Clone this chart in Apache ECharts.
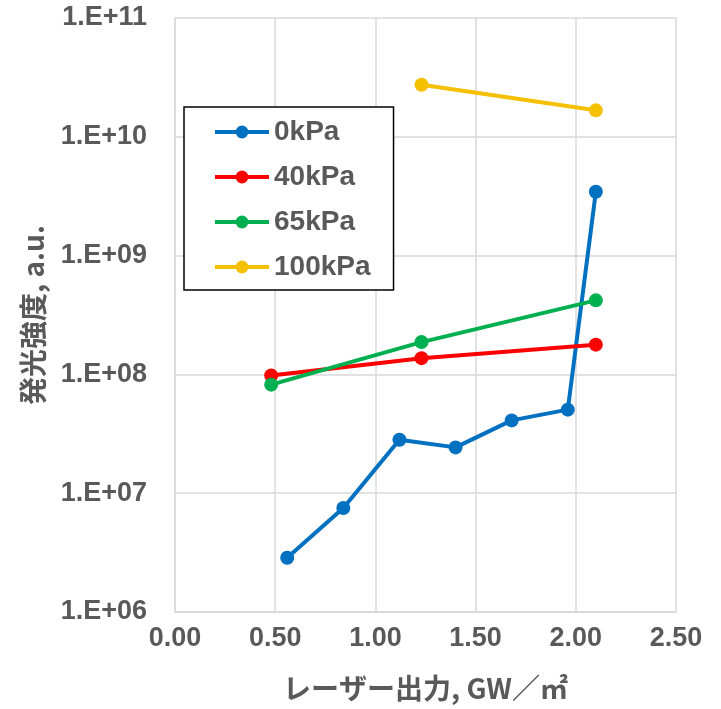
<!DOCTYPE html>
<html>
<head>
<meta charset="utf-8">
<script src="https://cdn.jsdelivr.net/npm/echarts@6/dist/echarts.min.js"></script>
<style>
html,body{margin:0;padding:0;background:#fff;}
#chart{width:721px;height:709px;}
</style>
</head>
<body>
<div id="chart"></div>
<script>
// Data
const seriesNames = ['0kPa', '40kPa', '65kPa', '100kPa'];
const seriesColors = ['#0070C0', '#FF0000', '#00B050', '#F5C000'];
const x0kPa = [0.56, 0.84, 1.12, 1.40, 1.68, 1.96, 2.10];
const y0kPa = [2.86e6, 7.5e6, 2.82e7, 2.43e7, 4.1e7, 5.05e7, 3.45e9];
const x40kPa = [0.48, 1.23, 2.10];
const y40kPa = [9.8e7, 1.37e8, 1.78e8];
const x65kPa = [0.48, 1.23, 2.10];
const y65kPa = [8.2e7, 1.87e8, 4.2e8];
const x100kPa = [1.23, 2.10];
const y100kPa = [2.74e10, 1.67e10];
const xTitle = 'レーザー出力, GW／㎡';
const yTitle = '発光強度, a.u.';

const xs = [x0kPa, x40kPa, x65kPa, x100kPa];
const ys = [y0kPa, y40kPa, y65kPa, y100kPa];

const numFamily = '"Liberation Sans", Arial, sans-serif';
const labelFont = {color: '#595959', fontFamily: numFamily, fontSize: 27, fontWeight: 'bold'};
const titleFont = {color: '#595959', fontFamily: '"Noto Sans CJK JP", sans-serif', fontSize: 28, fontWeight: 'bold'};

const chart = echarts.init(document.getElementById('chart'), null, {renderer: 'canvas'});
chart.setOption({
  animation: false,
  backgroundColor: '#ffffff',
  grid: {left: 175, right: 45, top: 18, bottom: 97, containLabel: false},
  legend: {
    orient: 'vertical',
    left: 184,
    top: 107,
    data: seriesNames,
    backgroundColor: '#ffffff',
    borderColor: '#000000',
    borderWidth: 1.5,
    borderRadius: 0,
    padding: [10, 23, 8, 29],
    itemWidth: 54,
    itemHeight: 16,
    itemGap: 15,
    lineStyle: {width: 4},
    textStyle: {color: '#595959', fontFamily: numFamily, fontSize: 28, fontWeight: 'bold', lineHeight: 30}
  },
  xAxis: {
    type: 'value',
    min: 0, max: 2.5, interval: 0.5,
    name: xTitle,
    nameLocation: 'middle',
    nameGap: 62,
    nameTextStyle: titleFont,
    axisLine: {show: true, lineStyle: {color: '#d9d9d9', width: 1.5}},
    axisTick: {show: false},
    splitLine: {show: true, lineStyle: {color: '#d9d9d9', width: 1.5}},
    axisLabel: Object.assign({margin: 13, formatter: v => v.toFixed(2)}, labelFont)
  },
  yAxis: {
    type: 'log',
    logBase: 10,
    min: 1e6, max: 1e11,
    name: yTitle,
    nameLocation: 'middle',
    nameGap: 128,
    nameRotate: 90,
    nameTextStyle: titleFont,
    axisLine: {show: true, lineStyle: {color: '#d9d9d9', width: 1.5}},
    axisTick: {show: false},
    splitLine: {show: true, lineStyle: {color: '#d9d9d9', width: 1.5}},
    minorTick: {show: false},
    axisLabel: Object.assign({margin: 28, formatter: v => {
      const e = Math.round(Math.log10(v));
      return '1.E+' + (e < 10 ? '0' + e : '' + e);
    }}, labelFont)
  },
  series: seriesNames.map((name, i) => ({
    name: name,
    type: 'line',
    data: xs[i].map((x, j) => [x, ys[i][j]]),
    symbol: 'circle',
    symbolSize: 14,
    itemStyle: {color: seriesColors[i]},
    lineStyle: {color: seriesColors[i], width: 4},
    z: 2 + i
  }))
});
</script>
</body>
</html>
